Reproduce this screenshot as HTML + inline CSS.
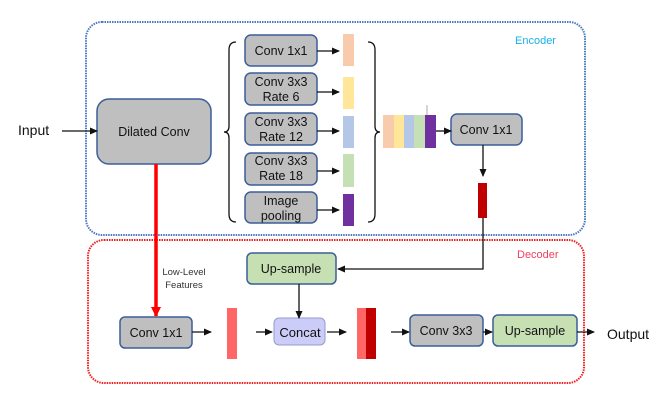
<!DOCTYPE html>
<html><head><meta charset="utf-8"><style>
html,body{margin:0;padding:0;background:#fff;}
svg{display:block;font-family:"Liberation Sans",sans-serif;}
</style></head><body>
<svg width="664" height="401" viewBox="0 0 664 401" xmlns="http://www.w3.org/2000/svg">
<defs>
<marker id="a" markerWidth="8" markerHeight="8" refX="7" refY="4" orient="auto" markerUnits="userSpaceOnUse"><path d="M0,0.5 L8,4 L0,7.5z" fill="#111"/></marker>
<marker id="r" markerWidth="10" markerHeight="10" refX="9" refY="5" orient="auto" markerUnits="userSpaceOnUse"><path d="M0,0 L10,5 L0,10z" fill="#f00"/></marker>
</defs>
<rect x="86" y="22" width="499" height="213" rx="16" fill="none" stroke="#4a78c0" stroke-width="2" stroke-dasharray="1.5 1"/>
<rect x="88" y="240" width="496" height="143" rx="16" fill="none" stroke="#f02020" stroke-width="2" stroke-dasharray="1.5 1"/>
<text x="515" y="44" font-size="11" fill="#1ab0e8">Encoder</text>
<text x="517" y="258" font-size="11" fill="#f04060">Decoder</text>
<g fill="#bfbfbf" stroke="#3c5f9a" stroke-width="1.5">
<rect x="97" y="99" width="114" height="65" rx="12"/>
<rect x="245" y="35" width="72" height="31" rx="6"/>
<rect x="245" y="73" width="72" height="32" rx="6"/>
<rect x="245" y="113" width="72" height="32" rx="6"/>
<rect x="245" y="153" width="72" height="32" rx="6"/>
<rect x="245" y="192" width="72" height="31" rx="6"/>
<rect x="451" y="114" width="71" height="31" rx="6"/>
<rect x="120" y="317" width="72" height="31" rx="5"/>
<rect x="410" y="315" width="73" height="31" rx="5"/>
</g>
<rect x="247" y="253" width="89" height="31" rx="5" fill="#c6e0b4" stroke="#3c5f9a" stroke-width="1.5"/>
<rect x="493" y="315" width="84" height="31" rx="5" fill="#c6e0b4" stroke="#3c5f9a" stroke-width="1.5"/>
<rect x="274" y="318" width="51" height="27" rx="5" fill="#ccccf8" stroke="#9a9acc" stroke-width="1"/>
<g font-size="12.5" fill="#111" text-anchor="middle">
<text x="18" y="135" font-size="14" text-anchor="start">Input</text>
<text x="154" y="136">Dilated Conv</text>
<text x="281" y="55">Conv 1x1</text>
<text x="281" y="86">Conv 3x3</text><text x="281" y="101">Rate 6</text>
<text x="281" y="126">Conv 3x3</text><text x="281" y="141">Rate 12</text>
<text x="281" y="165">Conv 3x3</text><text x="281" y="180">Rate 18</text>
<text x="281" y="205">Image</text><text x="281" y="220">pooling</text>
<text x="486" y="134">Conv 1x1</text>
<text x="291" y="273">Up-sample</text>
<text x="156" y="337">Conv 1x1</text>
<text x="300" y="337" font-size="13">Concat</text>
<text x="446" y="335">Conv 3x3</text>
<text x="535" y="335">Up-sample</text>
<text x="607" y="339" font-size="14" text-anchor="start">Output</text>
<text x="184" y="275" font-size="9.5" fill="#333">Low-Level</text>
<text x="184" y="288" font-size="9.5" fill="#333">Features</text>
</g>
<rect x="343" y="34" width="11" height="32" fill="#f8cbad"/>
<rect x="343" y="77" width="11" height="32" fill="#ffe699"/>
<rect x="343" y="116" width="11" height="32" fill="#b4c7e7"/>
<rect x="343" y="154" width="11" height="33" fill="#c5e0b4"/>
<rect x="343" y="194" width="11" height="32" fill="#7030a0"/>
<rect x="383" y="115" width="11" height="33" fill="#f8cbad"/>
<rect x="394" y="115" width="10" height="33" fill="#ffe699"/>
<rect x="404" y="115" width="10" height="33" fill="#b4c7e7"/>
<rect x="414" y="115" width="11" height="33" fill="#c5e0b4"/>
<rect x="425" y="115" width="11" height="33" fill="#7030a0"/>
<line x1="427" y1="105" x2="427" y2="115" stroke="#888" stroke-width="0.7"/>
<rect x="478" y="183" width="9" height="35" fill="#c00000"/>
<rect x="227" y="308" width="10" height="51" fill="#ff6666"/>
<rect x="357" y="308" width="9" height="51" fill="#ff6666"/>
<rect x="366" y="308" width="10" height="51" fill="#c00000"/>
<path d="M236,42 Q229,42 229,50 L229,126 Q229,132 224,132 Q229,132 229,138 L229,214 Q229,222 236,222" fill="none" stroke="#111" stroke-width="1.3"/>
<path d="M368,42 Q375,42 375,50 L375,126 Q375,132 380,132 Q375,132 375,138 L375,214 Q375,222 368,222" fill="none" stroke="#111" stroke-width="1.3"/>
<g stroke="#111" stroke-width="1.3" fill="none" marker-end="url(#a)">
<line x1="62" y1="131" x2="97" y2="131"/>
<line x1="317" y1="51" x2="339" y2="51"/>
<line x1="317" y1="92" x2="339" y2="92"/>
<line x1="317" y1="131" x2="339" y2="131"/>
<line x1="317" y1="171" x2="339" y2="171"/>
<line x1="317" y1="210" x2="339" y2="210"/>
<line x1="436" y1="131" x2="451" y2="131"/>
<line x1="483" y1="145" x2="483" y2="176"/>
<path d="M483,218 L483,269 L338,269"/>
<line x1="299" y1="284" x2="299" y2="318"/>
<line x1="192" y1="332" x2="211" y2="332"/>
<line x1="256" y1="332" x2="272" y2="332"/>
<line x1="327" y1="332" x2="346" y2="332"/>
<line x1="391" y1="332" x2="409" y2="332"/>
<line x1="483" y1="332" x2="492" y2="332"/>
<line x1="577" y1="332" x2="594" y2="332"/>
</g>
<line x1="156" y1="164" x2="156" y2="316" stroke="#f00" stroke-width="3.5" marker-end="url(#r)"/>
</svg>
</body></html>
